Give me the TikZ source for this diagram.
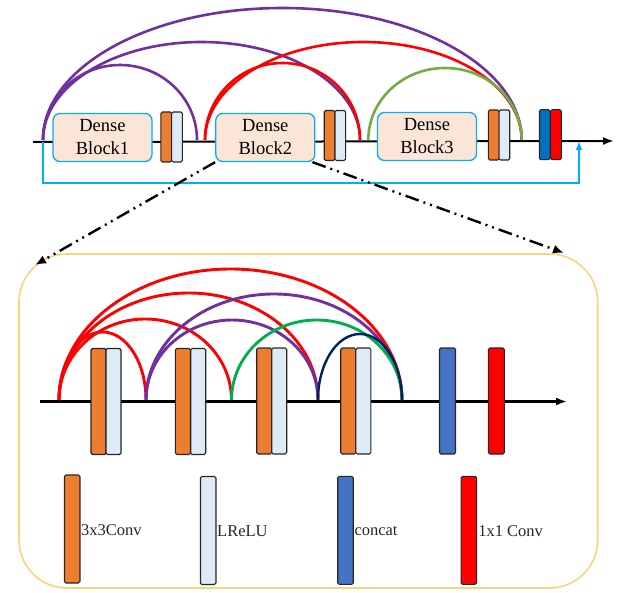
\documentclass[tikz,border=0pt]{standalone}
\usepackage{fontspec}
\setmainfont{Liberation Serif}
\usetikzlibrary{arrows.meta}
\definecolor{cpurple}{HTML}{7030A0}
\definecolor{cred}{HTML}{FF0000}
\definecolor{cgreenA}{HTML}{70AD47}
\definecolor{cgreenB}{HTML}{00B050}
\definecolor{cnavy}{HTML}{002060}
\definecolor{corange}{HTML}{ED7D31}
\definecolor{clight}{HTML}{DEEBF7}
\definecolor{cconcat}{HTML}{4472C4}
\definecolor{cblue}{HTML}{0070C0}
\definecolor{ccyan}{HTML}{00B0F0}
\definecolor{cpeach}{HTML}{FBE5D6}
\definecolor{cgold}{HTML}{F7D57A}
\begin{document}
\begin{tikzpicture}[x=1pt,y=-1pt,
  dblock/.style={draw=ccyan, fill=cpeach, rounded corners=7pt, line width=1.3pt,
    minimum width=99pt, minimum height=48pt, align=center, inner sep=0pt,
    font=\fontsize{18.5}{23}\selectfont},
  layer/.style={draw=black!85, line width=1.1pt, rounded corners=1.5pt, inner sep=0pt},
  toplayer/.style={layer, minimum width=10.7pt, minimum height=50pt},
  botlayer/.style={layer, minimum width=15pt, minimum height=106pt},
  leglayer/.style={layer, minimum width=15.5pt, minimum height=108pt},
  mainline/.style={line width=2pt, -{Latex[length=11pt,width=8pt]}},
  topskip/.style={line width=2.6pt},
  botskip/.style={line width=2.9pt},
  zoomarrow/.style={line width=2.4pt, dash pattern=on 14pt off 5pt on 2pt off 5pt on 2pt off 5pt,
    -{Latex[length=11pt,width=9pt]}},
  legtext/.style={anchor=west, inner sep=0pt, text=black!85, font=\fontsize{16.5}{19}\selectfont}
]
\useasboundingbox (0,0) rectangle (623,593);

% ---------------- top part ----------------
\coordinate (tl0) at (33,142);
\coordinate (tl1) at (614,141);
\draw[mainline] (tl0) -- (tl1);

% skip connection (cyan)
\coordinate (sk0) at (43,142);
\coordinate (sk1) at (43,183);
\coordinate (sk2) at (579,183);
\coordinate (sk3) at (579,141);
\draw[ccyan, line width=1.8pt, -{Latex[length=9pt,width=7pt]}] (sk0) -- (sk1) -- (sk2) -- (sk3);

% arc end points
\coordinate (p0) at (43,140);
\coordinate (p1) at (197,140);
\coordinate (p2) at (360,140);
\coordinate (p3) at (521.7,140);
\coordinate (r0) at (205,140);
\coordinate (g0) at (368.3,140);

\draw[topskip, cpurple] (p0) arc[start angle=180, end angle=360, x radius=77, y radius=75];
\draw[topskip, cpurple] (p0) arc[start angle=180, end angle=360, x radius=158.5, y radius=98];
\draw[topskip, cpurple] (p0) arc[start angle=180, end angle=360, x radius=239.35, y radius=132];
\draw[topskip, cred] (r0) arc[start angle=180, end angle=360, x radius=77.5, y radius=77];
\draw[topskip, cred] (r0) arc[start angle=180, end angle=360, x radius=158.35, y radius=98];
\draw[topskip, cgreenA] (g0) arc[start angle=180, end angle=360, x radius=76.7, y radius=72];

% dense blocks
\node[dblock] (b1) at (102.5,137.5) {Dense\\Block1};
\node[dblock] (b2) at (265.3,137.5) {Dense\\Block2};
\node[dblock] (b3) at (427,136.5) {Dense\\Block3};

% transition layers
\node[toplayer, fill=corange] (t1a) at (166.2,137) {};
\node[toplayer, fill=clight]  (t1b) at (177,137) {};
\node[toplayer, fill=corange] (t2a) at (329.6,135.5) {};
\node[toplayer, fill=clight]  (t2b) at (340.3,135.5) {};
\node[toplayer, fill=corange] (t3a) at (493.7,135) {};
\node[toplayer, fill=clight]  (t3b) at (504.4,135) {};
\node[toplayer, fill=cblue]   (t4a) at (544.8,134.7) {};
\node[toplayer, fill=cred]    (t4b) at (556,134.7) {};

% ---------------- bottom frame ----------------
\node[draw=cgold, line width=1.6pt, rounded corners=48pt, minimum width=578.7pt,
      minimum height=334pt, inner sep=0pt] (frame) at (308.35,421) {};

% zoom arrows
\coordinate (zl) at (35,265);
\coordinate (zr) at (564,253);
\draw[zoomarrow] (b2.south west) -- (zl);
\draw[zoomarrow] ([xshift=-3pt]b2.south east) -- (zr);

% bottom line
\coordinate (bl0) at (40,401.5);
\coordinate (bl1) at (567,401.5);
\draw[mainline, line width=2.2pt] (bl0) -- (bl1);

% arcs in dense block
\coordinate (A) at (59,400);
\coordinate (B) at (146,400);
\coordinate (C) at (231.5,400);
\coordinate (D) at (318,400);
\coordinate (E) at (402,400);

\draw[botskip, cred] (A) arc[start angle=180, end angle=360, x radius=171.5, y radius=131];
\draw[botskip, cred] (A) arc[start angle=180, end angle=360, x radius=129.5, y radius=107];
\draw[botskip, cred] (A) arc[start angle=180, end angle=360, x radius=86.25, y radius=81];
\draw[botskip, cred] (A) arc[start angle=180, end angle=360, x radius=43.5, y radius=68];
\draw[botskip, cpurple] (B) arc[start angle=180, end angle=360, x radius=128, y radius=106];
\draw[botskip, cpurple] (B) arc[start angle=180, end angle=360, x radius=86, y radius=80];
\draw[botskip, cgreenB] (C) arc[start angle=180, end angle=360, x radius=85.25, y radius=80];
\draw[botskip, cnavy, line width=2.4pt] (D) arc[start angle=180, end angle=360, x radius=42, y radius=66];

% layers in dense block
\node[botlayer, fill=corange] (l1a) at (98.5,401.5) {};
\node[botlayer, fill=clight]  (l1b) at (113.5,401.5) {};
\node[botlayer, fill=corange] (l2a) at (182.8,401.5) {};
\node[botlayer, fill=clight]  (l2b) at (198.2,401.5) {};
\node[botlayer, fill=corange] (l3a) at (264.2,401) {};
\node[botlayer, fill=clight]  (l3b) at (279.2,401) {};
\node[botlayer, fill=corange] (l4a) at (348.2,401) {};
\node[botlayer, fill=clight]  (l4b) at (363.3,401) {};
\node[botlayer, fill=cconcat, minimum width=16pt] (lc) at (447.5,401) {};
\node[botlayer, fill=cred, minimum width=16pt] (lr) at (496.3,401) {};

% legend
\node[leglayer, fill=corange] (k1) at (72.2,529) {};
\node[leglayer, fill=clight]  (k2) at (208.2,530.5) {};
\node[leglayer, fill=cconcat] (k3) at (345.5,530.3) {};
\node[leglayer, fill=cred]    (k4) at (468.8,530.3) {};
\node[legtext] (k1t) at ([xshift=0.5pt,yshift=-1pt]k1.east) {3x3Conv};
\node[legtext] (k2t) at ([xshift=0.5pt,yshift=-1pt]k2.east) {LReLU};
\node[legtext] (k3t) at ([xshift=0.5pt,yshift=-1pt]k3.east) {concat};
\node[legtext] (k4t) at ([xshift=1pt,yshift=-1pt]k4.east) {1x1 Conv};
\end{tikzpicture}
\end{document}
